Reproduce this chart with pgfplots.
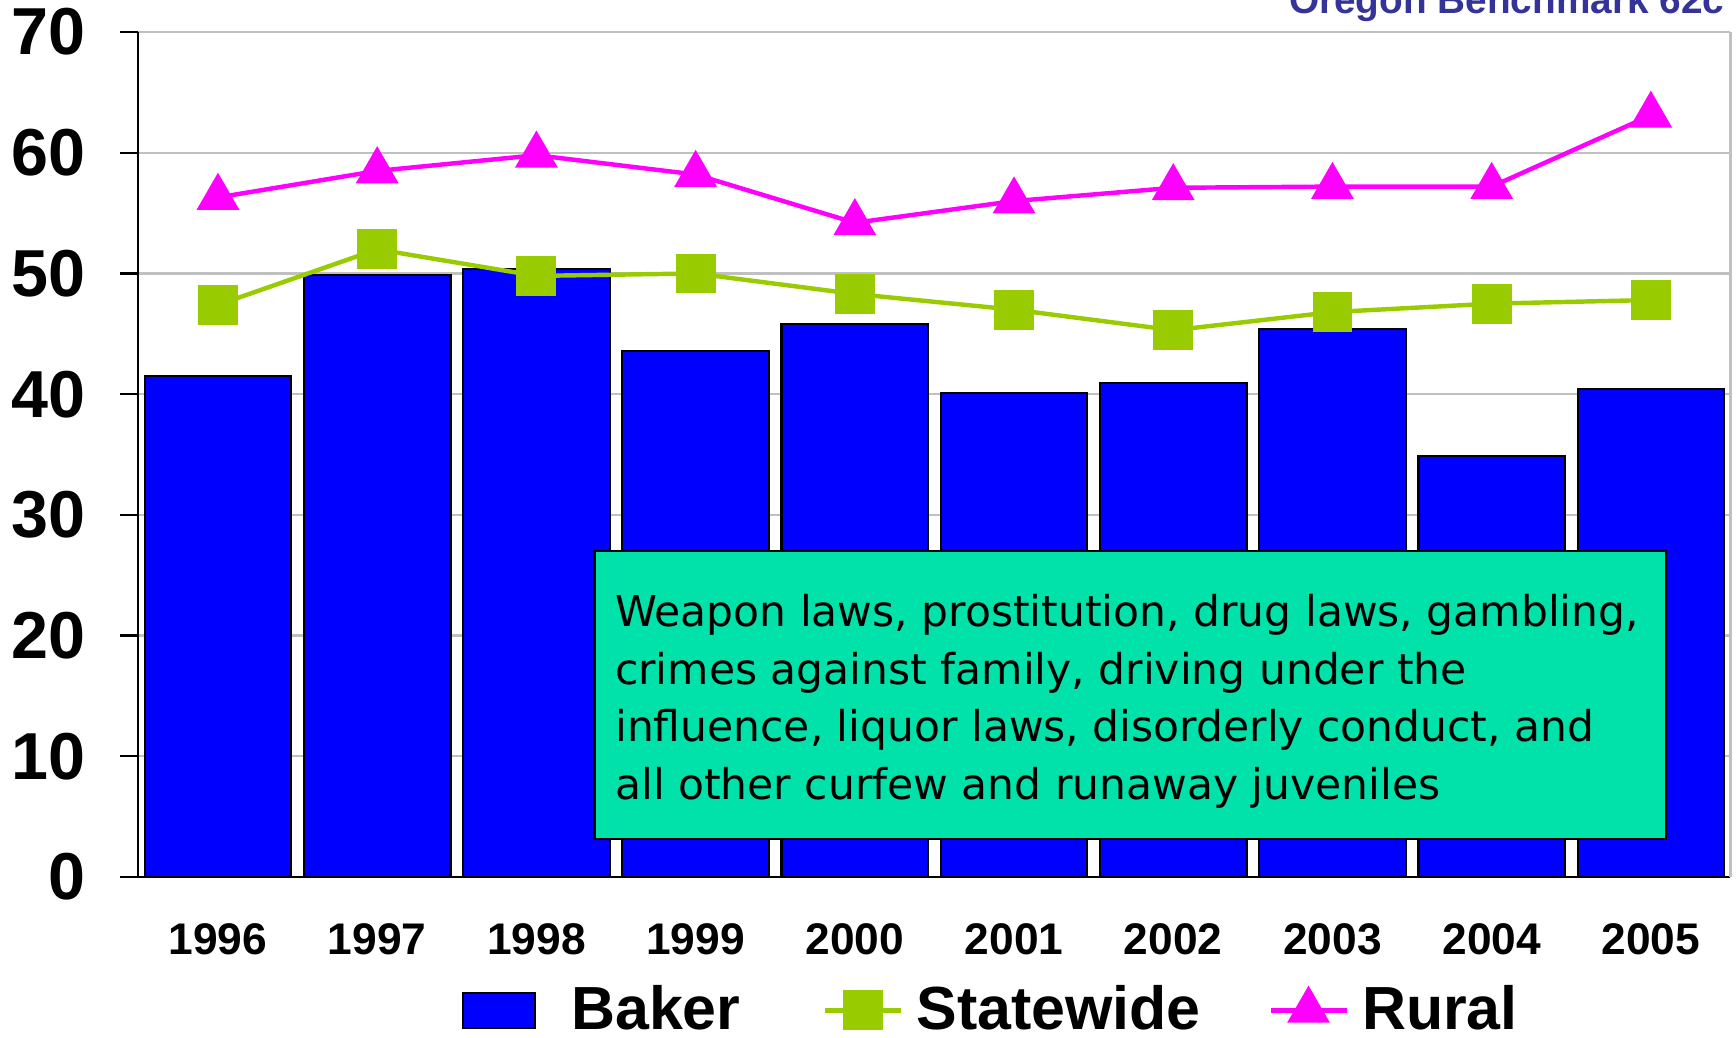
\documentclass[border=0pt]{standalone}
\usepackage{fontspec}
\setmainfont{Liberation Sans}
\newfontfamily\boxfont{DejaVu Sans}
\usepackage{pgfplots}
\pgfplotsset{compat=1.18}
\definecolor{bakerblue}{RGB}{0,0,255}
\definecolor{stategreen}{RGB}{153,204,0}
\definecolor{ruralpink}{RGB}{255,0,255}
\definecolor{boxgreen}{RGB}{0,226,170}
\definecolor{titleblue}{RGB}{51,51,153}
\definecolor{gridgray}{RGB}{192,192,192}
\pgfplotsset{
  barlegend/.style={legend image code/.code={\draw[##1] (0pt,-4.8pt) rectangle (19.5pt,4.8pt);}},
  linelegend/.style={legend image code/.code={\draw[mark repeat=2,mark phase=2,##1] plot coordinates {(0pt,0pt) (10.3pt,0pt) (20.6pt,0pt)};}},
}
\begin{document}
\begin{tikzpicture}
\begin{axis}[
  at={(0,0)}, anchor=south west,
  scale only axis, width=431.4pt, height=228.9pt,
  xmin=-0.5, xmax=9.5, ymin=0, ymax=70,
  axis x line*=bottom, axis y line*=left,
  axis line style={line width=0.6pt, black},
  xtick={0,...,9},
  xticklabels={1996,1997,1998,1999,2000,2001,2002,2003,2004,2005},
  xtick style={draw=none},
  minor xtick={-0.5,0.5,...,9.5},
  minor tick length=3.3pt,
  ytick={0,10,...,70},
  major tick length=5.1pt,
  tick align=outside,
  tick style={black, line width=0.6pt},
  ymajorgrids, grid style={gridgray, line width=0.6pt},
  /pgf/number format/assume math mode=true,
  xticklabel style={font=\fontsize{12}{14}\selectfont\bfseries, yshift=-4.1pt},
  yticklabel style={font=\fontsize{18}{20}\selectfont\bfseries, xshift=-5.6pt},
  legend style={at={(0.537,-0.158)}, anchor=center, draw=none, fill=none,
    legend columns=3, font=\fontsize{16.5}{18}\selectfont\bfseries,
    /tikz/column 1/.style={column sep=7.6pt},
    /tikz/column 2/.style={column sep=20.3pt},
    /tikz/column 3/.style={column sep=1.6pt},
    /tikz/column 4/.style={column sep=16.3pt},
    /tikz/column 5/.style={column sep=1.6pt}},
]
\addplot[ybar, bar width=0.92, fill=bakerblue, draw=black, line width=0.6pt, barlegend]
  coordinates {(0,41.5) (1,49.9) (2,50.4) (3,43.6) (4,45.8) (5,40.1) (6,40.9) (7,45.4) (8,34.9) (9,40.4)};
\addlegendentry{Baker}
\addplot[stategreen, line width=1.2pt, mark=square*, mark size=4.8pt,
  mark options={solid, fill=stategreen, draw=stategreen}, linelegend]
  coordinates {(0,47.4) (1,52.0) (2,49.8) (3,50.0) (4,48.3) (5,47.0) (6,45.3) (7,46.8) (8,47.5) (9,47.8)};
\addlegendentry{Statewide}
\addplot[ruralpink, line width=1.2pt, mark=triangle*, mark size=5.5pt,
  mark options={solid, fill=ruralpink, draw=ruralpink}, linelegend]
  coordinates {(0,56.3) (1,58.5) (2,59.8) (3,58.2) (4,54.2) (5,56.0) (6,57.1) (7,57.2) (8,57.2) (9,63.1)};
\addlegendentry{Rural}
\end{axis}
\draw[gridgray, line width=0.6pt] (431.4pt,0pt) -- (431.4pt,228.9pt);
\filldraw[fill=boxgreen, draw=black, line width=0.6pt] (123.6pt,10.2pt) rectangle (414pt,88.2pt);
\begin{scope}[every node/.style={anchor=base west, inner sep=0pt, font=\boxfont\fontsize{11.5}{13}\selectfont}]
\node at (129pt,67.8pt) {Weapon laws, prostitution, drug laws, gambling,};
\node at (129pt,52.2pt) {crimes against family, driving under the};
\node at (129pt,36.6pt) {influence, liquor laws, disorderly conduct, and};
\node at (129pt,21.0pt) {all other curfew and runaway juveniles};
\end{scope}
\node[anchor=base east, inner sep=0pt, font=\fontsize{10.5}{12}\selectfont\bfseries, text=titleblue] at (429.9pt,234pt) {Oregon Benchmark 62c};
\pgfresetboundingbox
\path[use as bounding box] (-37.5pt,-43.5pt) rectangle (432.9pt,237.6pt);
\end{tikzpicture}
\end{document}
